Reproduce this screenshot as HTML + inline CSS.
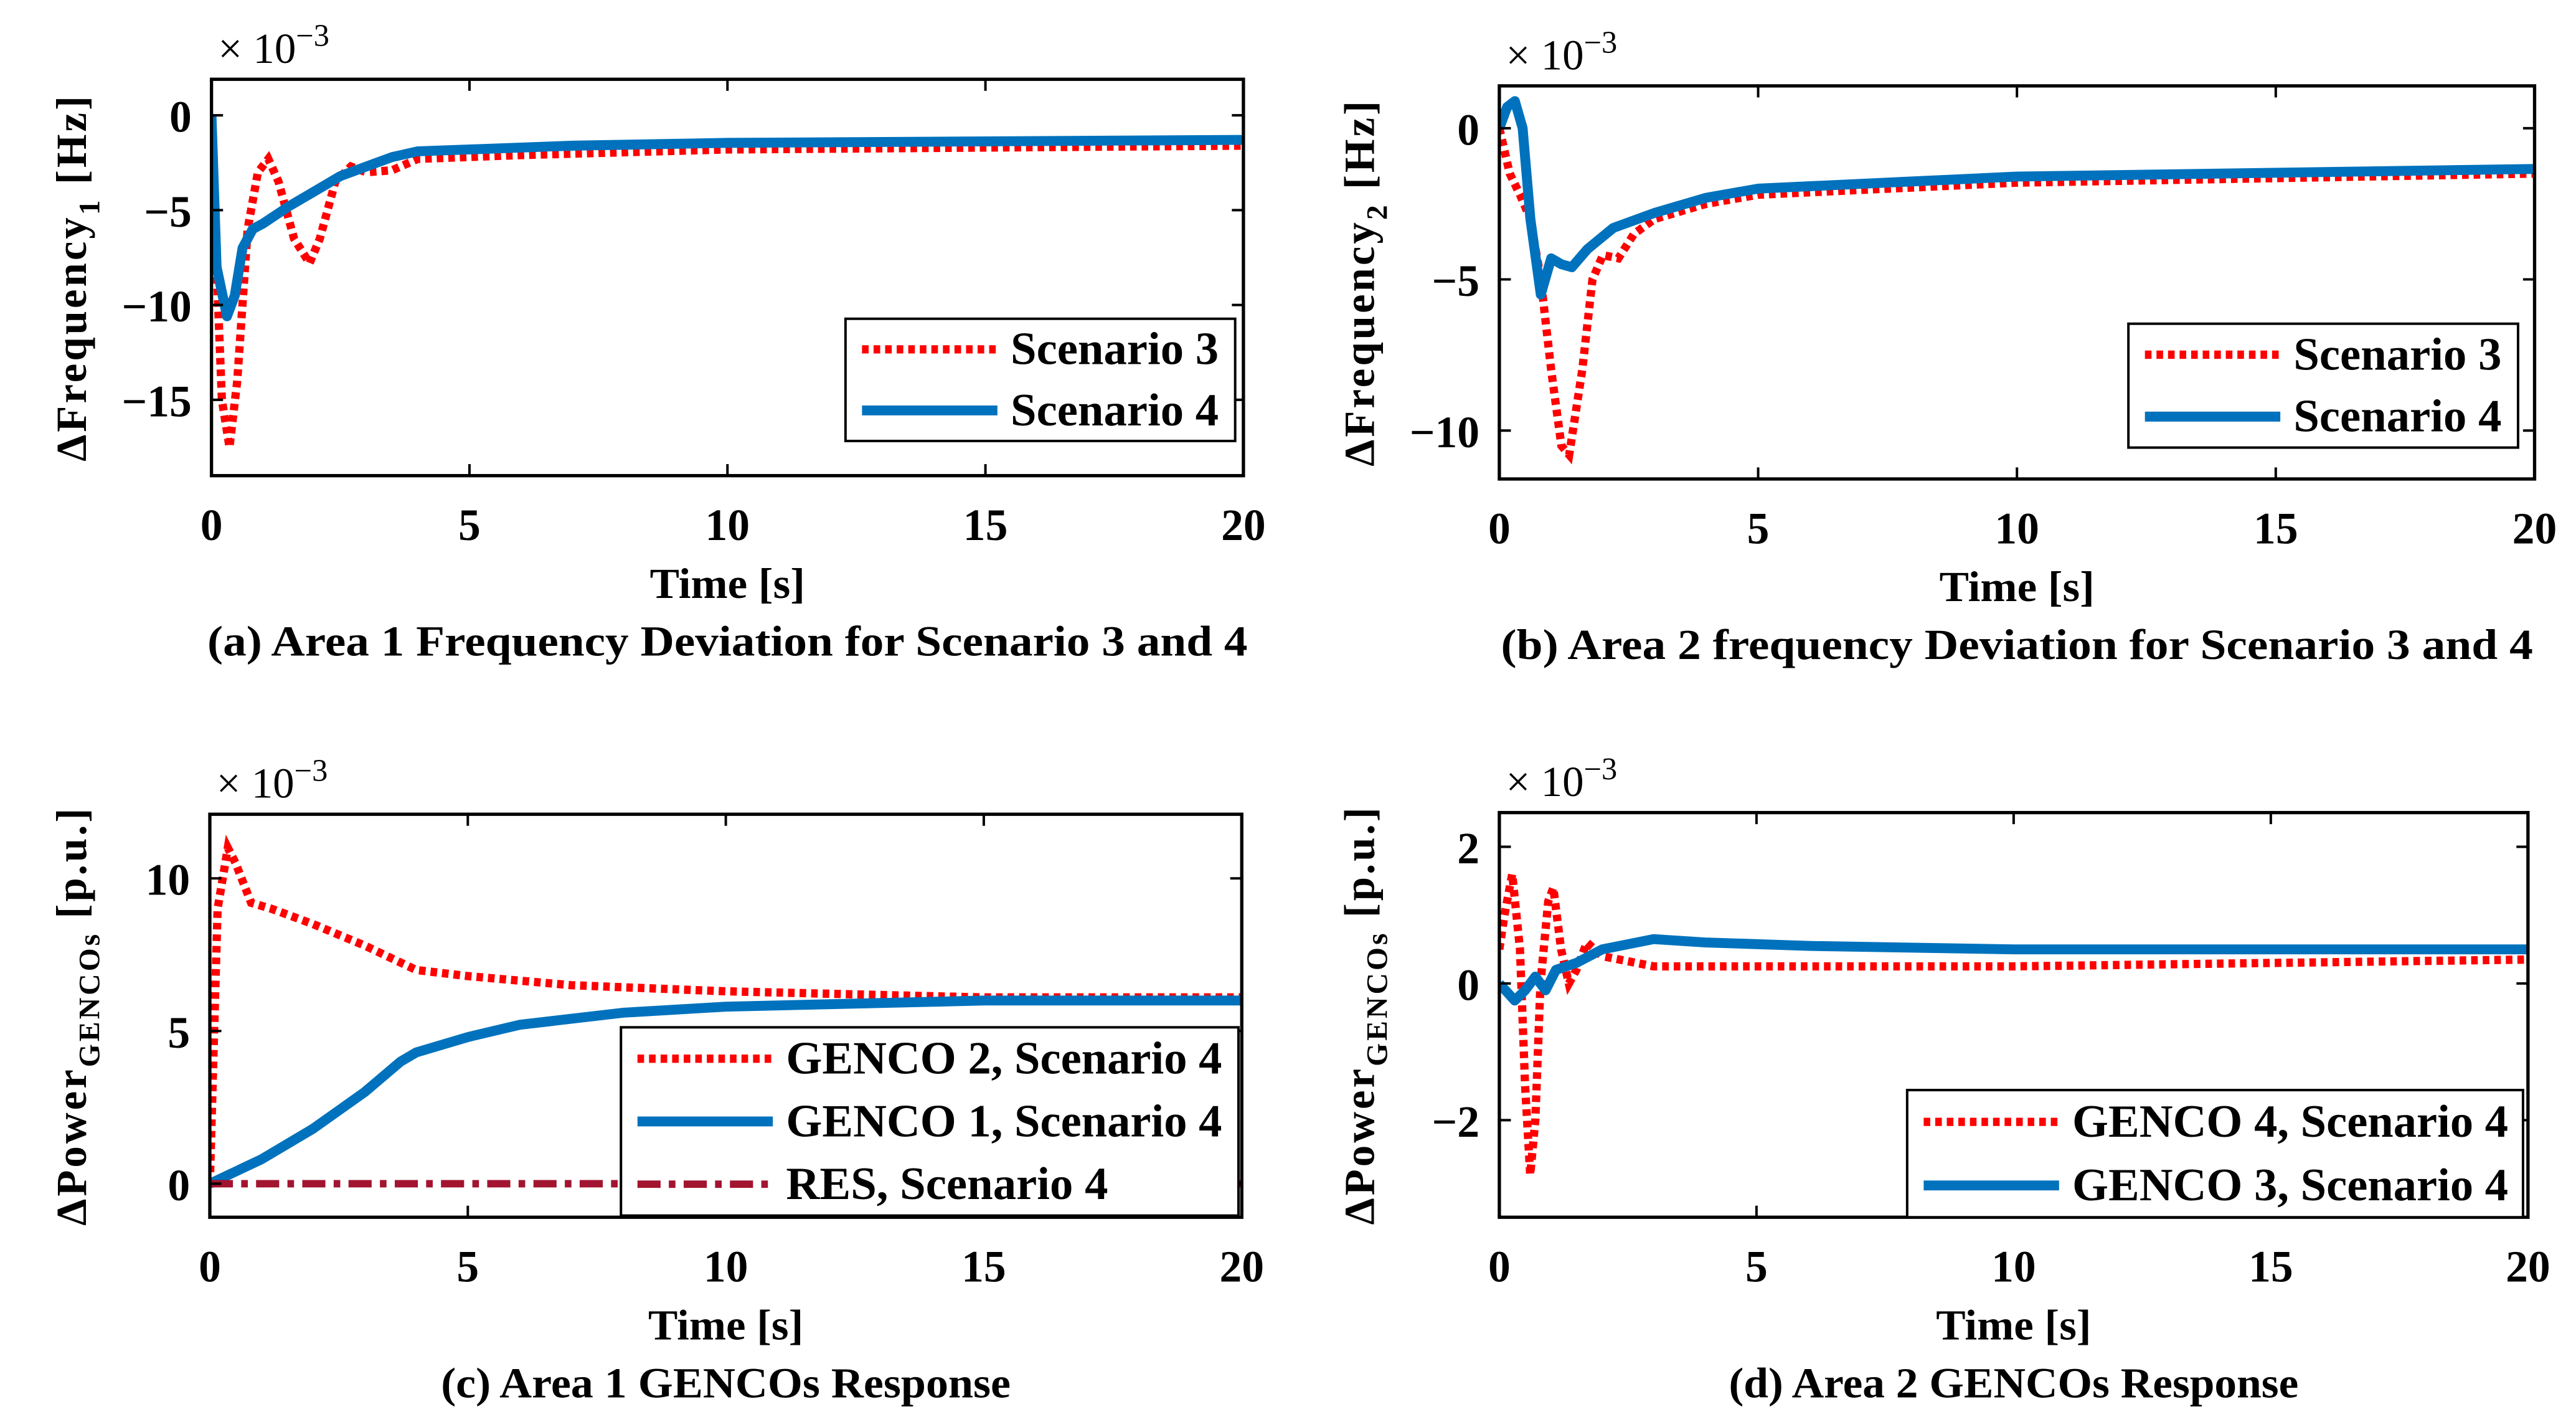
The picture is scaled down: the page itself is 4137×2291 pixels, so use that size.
<!DOCTYPE html>
<html><head><meta charset="utf-8"><style>
html,body{margin:0;padding:0;background:#fff;}
svg{display:block;}
text{font-family:"Liberation Serif",serif;font-weight:bold;fill:#000;}
</style></head><body>
<svg id="fig" width="4137" height="2291" viewBox="0 0 1560 864" xmlns="http://www.w3.org/2000/svg"></svg>
<script>
// ---- Data ----
const xTicks = [0, 5, 10, 15, 20];
// Panel a
const aT3 = [0,0.1,0.2,0.35,0.5,0.7,0.9,1.1,1.3,1.6,1.9,2.1,2.4,2.7,3,3.5,4,6,10,20];
const aS3 = [0,-8,-15,-17.5,-14,-6,-3,-2.3,-3.5,-6.5,-7.8,-6.5,-3.5,-2.7,-3,-2.9,-2.3,-2.1,-1.8,-1.6];
const aT4 = [0,0.1,0.3,0.45,0.6,0.8,1.0,1.5,2,2.5,3,3.5,4,5,7,10,20];
const aS4 = [0,-8,-10.6,-9.5,-7,-6,-5.7,-4.8,-4,-3.2,-2.7,-2.2,-1.9,-1.8,-1.6,-1.45,-1.3];
const aYTicks = [0,-5,-10,-15];
// Panel b
const bT3 = [0,0.2,0.4,0.6,0.8,1.0,1.2,1.35,1.6,1.8,2.0,2.3,2.6,3,4,5,10,20];
const bS3 = [0,-1.5,-2.2,-3,-5,-8,-10.5,-10.8,-8,-5,-4.2,-4.3,-3.5,-3,-2.5,-2.2,-1.8,-1.5];
const bT4 = [0,0.15,0.3,0.45,0.6,0.8,1.0,1.2,1.4,1.7,2.2,3,4,5,10,20];
const bS4 = [0,0.7,0.9,0,-3,-5.5,-4.3,-4.5,-4.6,-4,-3.3,-2.8,-2.3,-2,-1.6,-1.35];
const bYTicks = [0,-5,-10];
// Panel c
const cT2 = [0,0.15,0.35,0.5,0.8,1.2,2,3,4,5,7,10,15,20];
const cG2 = [0,9,11,10.5,9.2,9,8.5,7.8,7,6.8,6.5,6.3,6.1,6.1];
const cT1 = [0,1,2,3,3.7,4,5,6,8,10,15,20];
const cG1 = [0,0.8,1.8,3,4,4.3,4.8,5.2,5.6,5.8,6.0,6.0];
const cTR = [0,20];
const cRES = [0,0];
const cYTicks = [0,5,10];
// Panel d
const dT4 = [0,0.1,0.25,0.4,0.5,0.6,0.7,0.8,0.95,1.05,1.2,1.35,1.5,1.7,2,3,5,10,20];
const dG4 = [0.5,1,1.6,0.5,-1.5,-2.8,-2,0,1.2,1.4,0.5,0,0.2,0.6,0.4,0.25,0.25,0.25,0.35];
const dT3 = [0,0.3,0.5,0.7,0.9,1.1,1.5,2,3,4,6,10,20];
const dG3 = [0,-0.25,-0.1,0.1,-0.1,0.2,0.3,0.5,0.65,0.6,0.55,0.5,0.5];
const dYTicks = [2,0,-2];

const NS = "http://www.w3.org/2000/svg";
const svg = document.getElementById('fig');
function mk(tag, attrs, parent){ const e=document.createElementNS(NS,tag); for(const k in attrs) e.setAttribute(k,attrs[k]); (parent||svg).appendChild(e); return e; }
function txt(s, attrs, parent){ const e=mk('text',attrs,parent); e.textContent=s; return e; }

const RED = {stroke:'#ff0000','stroke-width':5,'stroke-dasharray':'4,3',fill:'none'};
const BLUE = {stroke:'#0072bd','stroke-width':6,fill:'none','stroke-linejoin':'round'};
const RES = {stroke:'#a2142f','stroke-width':4.5,'stroke-dasharray':'14,5,4,5',fill:'none'};

function panel(p){
  const g = mk('g',{});
  
  
  const X = t => p.x0 + (t-0)/20*(p.x1-p.x0);
  const Y = v => p.y1 - (v-p.ymin)/(p.ymax-p.ymin)*(p.y1-p.y0);
  const clip = 'clip-'+p.name;
  const cp = mk('clipPath',{id:clip},g); mk('rect',{x:p.x0,y:p.y0,width:p.x1-p.x0,height:p.y1-p.y0},cp);
  p.series.forEach(s=>{
    const d = s.t.map((t,i)=>(i?'L':'M')+X(t).toFixed(1)+','+Y(s.v[i]).toFixed(1)).join('');
    const path = mk('path',Object.assign({d:d,'clip-path':'url(#'+clip+')'},s.style),g);
    
    
  });
  const box = mk('rect',{x:p.x0,y:p.y0,width:p.x1-p.x0,height:p.y1-p.y0,fill:'none',stroke:'#000','stroke-width':2},g);
  
  
  xTicks.forEach(t=>{
    mk('line',{x1:X(t),x2:X(t),y1:p.y1,y2:p.y1-7,stroke:'#000','stroke-width':1.5},g);
    mk('line',{x1:X(t),x2:X(t),y1:p.y0,y2:p.y0+7,stroke:'#000','stroke-width':1.5},g);
    const l = txt(String(t),{x:X(t),y:p.y1+39,'font-size':27,'text-anchor':'middle'},g);
    
    
  });
  p.yTicks.forEach(v=>{
    mk('line',{x1:p.x0,x2:p.x0+7,y1:Y(v),y2:Y(v),stroke:'#000','stroke-width':1.5},g);
    mk('line',{x1:p.x1,x2:p.x1-7,y1:Y(v),y2:Y(v),stroke:'#000','stroke-width':1.5},g);
    const l = txt(v<0?'\u2212'+(-v):String(v),{x:p.x0-12,y:Y(v)+10,'font-size':27,'text-anchor':'end'},g);
    
    
  });
  const ex = txt('',{x:p.x0+4,y:p.y0-10,'font-size':26},g);
  
  
  ex.style.fontWeight='normal';
  const t1=mk('tspan',{},ex); t1.textContent='\u00d7 10';
  const t2=mk('tspan',{dy:-10,'font-size':19},ex); t2.textContent='\u22123';
  const xl = txt('Time [s]',{x:(p.x0+p.x1)/2,y:p.y1+74,'font-size':26,'text-anchor':'middle',textLength:94,lengthAdjust:'spacingAndGlyphs'},g);
  
  
  const cap = txt(p.caption,{x:(p.x0+p.x1)/2,y:p.y1+109,'font-size':26,'text-anchor':'middle',textLength:p.capW,lengthAdjust:'spacingAndGlyphs'},g);
  
  
  const yl = txt('',{x:0,y:0,'font-size':26,'text-anchor':'middle',transform:'translate('+p.ylx+','+((p.y0+p.y1)/2)+') rotate(-90)','letter-spacing':1.5},g);
  
  
  const a=mk('tspan',{},yl); a.textContent=p.yl[0];
  const b=mk('tspan',{dy:8,'font-size':18},yl); b.textContent=p.yl[1];
  const c=mk('tspan',{dy:-8},yl); c.textContent=p.yl[2];
  const L=p.leg;
  const lg = mk('g',{},g);
  
  
  mk('rect',{x:L.x,y:L.y,width:L.w,height:L.h,fill:'#fff',stroke:'#000','stroke-width':1.5},lg);
  p.series.forEach((s,i)=>{
    const yy = L.y + L.h/(p.series.length)*(i+0.5);
    mk('line',Object.assign({x1:L.x+10,x2:L.x+L.lw,y1:yy,y2:yy},s.style),lg);
    const et = txt(s.label,{x:L.x+L.lw+8,y:yy+9,'font-size':28,textLength:s.tw,lengthAdjust:'spacingAndGlyphs'},lg);
    
    
  });
}

panel({name:'panel-a',x0:128,x1:753,y0:48,y1:288,ymin:-19,ymax:1.9,yTicks:aYTicks,
  caption:'(a) Area 1 Frequency Deviation for Scenario 3 and 4',capW:630,ylx:52,yl:['\u0394Frequency','1',' [Hz]'],
  series:[{t:aT3,v:aS3,style:RED,label:'Scenario 3',dn:'scenario-3-line',tw:126},{t:aT4,v:aS4,style:BLUE,label:'Scenario 4',dn:'scenario-4-line',tw:126}],
  leg:{x:512,y:193,w:236,h:74,lw:92}});
panel({name:'panel-b',x0:908,x1:1535,y0:52,y1:290,ymin:-11.6,ymax:1.4,yTicks:bYTicks,
  caption:'(b) Area 2 frequency Deviation for Scenario 3 and 4',capW:625,ylx:832,yl:['\u0394Frequency','2',' [Hz]'],
  series:[{t:bT3,v:bS3,style:RED,label:'Scenario 3',dn:'scenario-3-line',tw:126},{t:bT4,v:bS4,style:BLUE,label:'Scenario 4',dn:'scenario-4-line',tw:126}],
  leg:{x:1289,y:196,w:236,h:75,lw:92}});
panel({name:'panel-c',x0:127,x1:752,y0:493,y1:737,ymin:-1.1,ymax:12.1,yTicks:cYTicks,
  caption:'(c) Area 1 GENCOs Response',capW:345,ylx:52,yl:['\u0394Power','GENCOs',' [p.u.]'],
  series:[{t:cT2,v:cG2,style:RED,label:'GENCO 2, Scenario 4',dn:'genco-2-line',tw:264},{t:cT1,v:cG1,style:BLUE,label:'GENCO 1, Scenario 4',dn:'genco-1-line',tw:264},{t:cTR,v:cRES,style:RES,label:'RES, Scenario 4',dn:'res-line',tw:195}],
  leg:{x:376,y:622,w:374,h:114,lw:92}});
panel({name:'panel-d',x0:908,x1:1531,y0:492,y1:737,ymin:-3.42,ymax:2.5,yTicks:dYTicks,
  caption:'(d) Area 2 GENCOs Response',capW:345,ylx:832,yl:['\u0394Power','GENCOs',' [p.u.]'],
  series:[{t:dT4,v:dG4,style:RED,label:'GENCO 4, Scenario 4',dn:'genco-4-line',tw:264},{t:dT3,v:dG3,style:BLUE,label:'GENCO 3, Scenario 4',dn:'genco-3-line',tw:264}],
  leg:{x:1155,y:660,w:373,h:77,lw:92}});
</script>
</body></html>
